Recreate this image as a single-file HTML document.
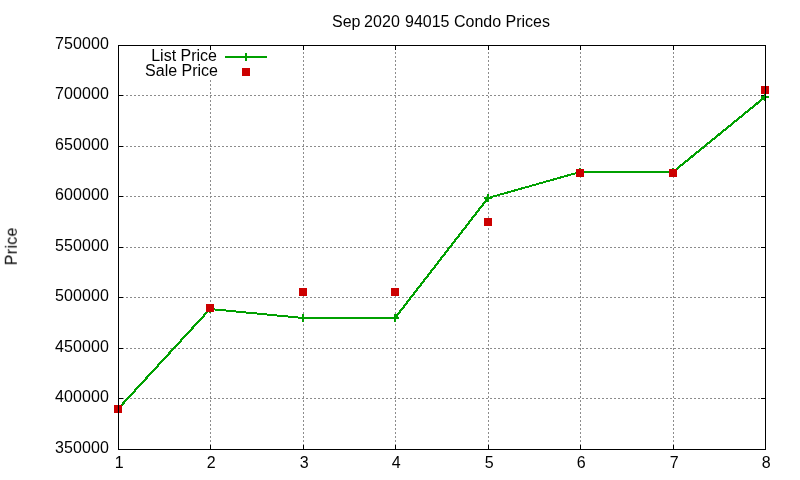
<!DOCTYPE html>
<html lang="en"><head><meta charset="utf-8"><title>Sep 2020 94015 Condo Prices</title>
<style>html,body{margin:0;padding:0;background:#fff;}body{width:800px;height:480px;overflow:hidden;}svg{display:block;}text{font-family:"Liberation Sans",Arial,sans-serif;font-size:16px;fill:#000;}</style></head><body>
<svg width="800" height="480" viewBox="0 0 800 480">
<rect x="0" y="0" width="800" height="480" fill="#ffffff"/>
<g stroke="#8c8c8c" stroke-width="1" stroke-dasharray="2 2" shape-rendering="crispEdges" fill="none">
<line x1="118" y1="398.5" x2="766" y2="398.5"/>
<line x1="118" y1="348.5" x2="766" y2="348.5"/>
<line x1="118" y1="297.5" x2="766" y2="297.5"/>
<line x1="118" y1="247.5" x2="766" y2="247.5"/>
<line x1="118" y1="196.5" x2="766" y2="196.5"/>
<line x1="118" y1="146.5" x2="766" y2="146.5"/>
<line x1="118" y1="95.5" x2="766" y2="95.5"/>
<line x1="210.5" y1="450" x2="210.5" y2="45"/>
<line x1="303.5" y1="450" x2="303.5" y2="45"/>
<line x1="395.5" y1="450" x2="395.5" y2="45"/>
<line x1="488.5" y1="450" x2="488.5" y2="45"/>
<line x1="580.5" y1="450" x2="580.5" y2="45"/>
<line x1="673.5" y1="450" x2="673.5" y2="45"/>
</g>
<rect x="144" y="50" width="75" height="29" fill="#ffffff"/>
<path d="M119 398.5H123M761 398.5H765M119 348.5H123M761 348.5H765M119 297.5H123M761 297.5H765M119 247.5H123M761 247.5H765M119 196.5H123M761 196.5H765M119 146.5H123M761 146.5H765M119 95.5H123M761 95.5H765M210.5 449V445M210.5 46V50M303.5 449V445M303.5 46V50M395.5 449V445M395.5 46V50M488.5 449V445M488.5 46V50M580.5 449V445M580.5 46V50M673.5 449V445M673.5 46V50" stroke="#000" stroke-width="1" fill="none" shape-rendering="crispEdges"/>
<g stroke="#00a000" stroke-width="2" fill="none" shape-rendering="crispEdges">
<line x1="118" y1="409" x2="210" y2="309" stroke-width="2.2"/>
<line x1="210" y1="309" x2="303" y2="318"/>
<line x1="303" y1="318" x2="395" y2="318"/>
<line x1="395" y1="318" x2="488" y2="198" stroke-width="2.2"/>
<line x1="488" y1="198" x2="580" y2="172"/>
<line x1="580" y1="172" x2="673" y2="172"/>
<line x1="673" y1="172" x2="765" y2="97" stroke-width="2.2"/>
<path d="M114 409H122M118 405V413"/>
<path d="M206 309H214M210 305V313"/>
<path d="M299 318H307M303 314V322"/>
<path d="M391 318H399M395 314V322"/>
<path d="M484 198H492M488 194V202"/>
<path d="M576 172H584M580 168V176"/>
<path d="M669 172H677M673 168V176"/>
<path d="M761 97H769M765 93V101"/>
<path d="M225 57H267M246 53V61"/>
</g>
<g fill="#cc0000" shape-rendering="crispEdges">
<rect x="114" y="405" width="8" height="8"/>
<rect x="206" y="304" width="8" height="8"/>
<rect x="299" y="288" width="8" height="8"/>
<rect x="391" y="288" width="8" height="8"/>
<rect x="484" y="218" width="8" height="8"/>
<rect x="576" y="169" width="8" height="8"/>
<rect x="669" y="169" width="8" height="8"/>
<rect x="761" y="86" width="8" height="8"/>
<rect x="242" y="68" width="8" height="8"/>
</g>
<rect x="118.5" y="45.5" width="647" height="404" stroke="#000" stroke-width="1" fill="none" shape-rendering="crispEdges"/>
<g opacity="0.999">
<text x="441" y="26.5" text-anchor="middle">Sep<tspan dx="-1" letter-spacing="0.1"> 2020</tspan><tspan dx="0.6"> 94015 Condo Prices</tspan></text>
<text transform="translate(16.8,246.3) rotate(-90)" text-anchor="middle" letter-spacing="0.3">Price</text>
<text x="109.1" y="453" text-anchor="end" letter-spacing="0.1">350000</text>
<text x="109.1" y="402" text-anchor="end" letter-spacing="0.1">400000</text>
<text x="109.1" y="352" text-anchor="end" letter-spacing="0.1">450000</text>
<text x="109.1" y="301" text-anchor="end" letter-spacing="0.1">500000</text>
<text x="109.1" y="251" text-anchor="end" letter-spacing="0.1">550000</text>
<text x="109.1" y="200" text-anchor="end" letter-spacing="0.1">600000</text>
<text x="109.1" y="150" text-anchor="end" letter-spacing="0.1">650000</text>
<text x="109.1" y="99" text-anchor="end" letter-spacing="0.1">700000</text>
<text x="109.1" y="49" text-anchor="end" letter-spacing="0.1">750000</text>
<text x="119.25" y="468" text-anchor="middle">1</text>
<text x="211.25" y="468" text-anchor="middle">2</text>
<text x="304.25" y="468" text-anchor="middle">3</text>
<text x="396.25" y="468" text-anchor="middle">4</text>
<text x="489.25" y="468" text-anchor="middle">5</text>
<text x="581.25" y="468" text-anchor="middle">6</text>
<text x="674.25" y="468" text-anchor="middle">7</text>
<text x="766.25" y="468" text-anchor="middle">8</text>
<text x="217" y="61" text-anchor="end">List Price</text>
<text x="218" y="76" text-anchor="end">Sale Price</text>
</g>
</svg></body></html>
